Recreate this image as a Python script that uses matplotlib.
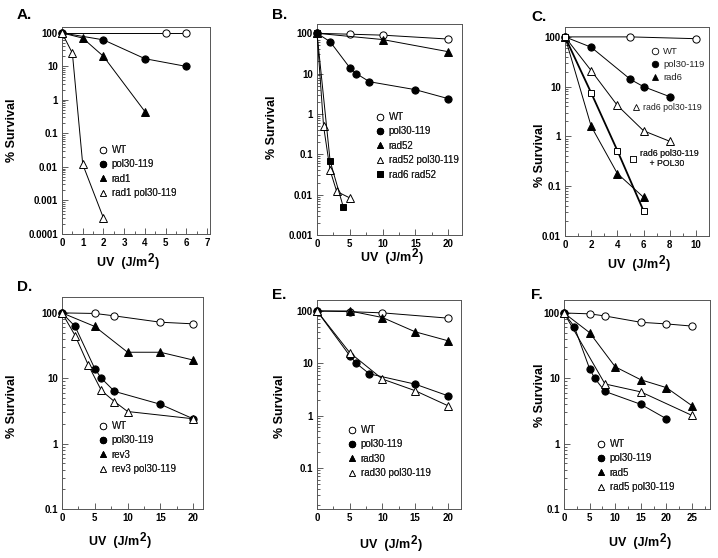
import matplotlib
matplotlib.use("Agg")
import matplotlib.pyplot as plt
from matplotlib.lines import Line2D
from matplotlib.ticker import MultipleLocator, LogLocator, FuncFormatter, FixedLocator, NullFormatter

plt.rcParams['font.family'] = ['Liberation Sans', 'DejaVu Sans']

# ---------------- data ----------------
# Panel A
a_wt_x = [0, 5, 6];             a_wt_y = [100, 100, 100]
a_pol_x = [0, 2, 4, 6];         a_pol_y = [100, 62, 17, 10]
a_rad1_x = [0, 1, 2, 4];        a_rad1_y = [100, 70, 20, 0.45]
a_rp_x = [0, 0.5, 1, 2];        a_rp_y = [100, 25, 0.012, 0.0003]
# Panel B
b_wt_x = [0, 5, 10, 20];        b_wt_y = [100, 95, 90, 72]
b_pol_x = [0, 2, 5, 6, 8, 15, 20]; b_pol_y = [100, 62, 14, 10, 6.3, 4, 2.4]
b_rad52_x = [0, 10, 20];        b_rad52_y = [100, 70, 35]
b_rp_x = [0, 1, 2, 3, 5];       b_rp_y = [100, 0.5, 0.04, 0.012, 0.0083]
b_r6r52_x = [0, 2, 4];          b_r6r52_y = [100, 0.068, 0.005]
# Panel C
c_wt_x = [0, 5, 10];            c_wt_y = [100, 100, 92]
c_pol_x = [0, 2, 5, 6, 8];      c_pol_y = [100, 62, 14, 10, 6.3]
c_rad6_x = [0, 2, 4, 6];        c_rad6_y = [100, 1.6, 0.18, 0.06]
c_rp_x = [0, 2, 4, 6, 8];       c_rp_y = [100, 21, 4.2, 1.3, 0.8]
c_rpP_x = [0, 2, 4, 6];         c_rpP_y = [100, 7.5, 0.52, 0.032]
# Panel D
d_wt_x = [0, 5, 8, 15, 20];     d_wt_y = [100, 98, 90, 72, 68]
d_pol_x = [0, 2, 5, 6, 8, 15, 20]; d_pol_y = [100, 62, 14, 10, 6.3, 4, 2.4]
d_rev3_x = [0, 5, 10, 15, 20];  d_rev3_y = [100, 62, 25, 25, 19]
d_rp_x = [0, 2, 4, 6, 8, 10, 20]; d_rp_y = [100, 45, 16, 6.5, 4.4, 3.1, 2.4]
# Panel E
e_wt_x = [0, 5, 10, 20];        e_wt_y = [100, 97, 92, 73]
e_pol_x = [0, 5, 6, 8, 15, 20]; e_pol_y = [100, 14, 10, 6.3, 4, 2.4]
e_rad30_x = [0, 5, 10, 15, 20]; e_rad30_y = [100, 100, 75, 40, 27]
e_rp_x = [0, 5, 10, 15, 20];    e_rp_y = [100, 16, 5, 3, 1.55]
# Panel F
f_wt_x = [0, 5, 8, 15, 20, 25]; f_wt_y = [100, 97, 90, 72, 68, 63]
f_pol_x = [0, 2, 5, 6, 8, 15, 20]; f_pol_y = [100, 62, 14, 10, 6.3, 4, 2.4]
f_rad5_x = [0, 5, 10, 15, 20, 25]; f_rad5_y = [100, 50, 15, 9.5, 7.2, 3.8]
f_rp_x = [0, 8, 15, 25];        f_rp_y = [100, 8.2, 6.2, 2.7]

W, H = 718, 558
fig = plt.figure(figsize=(W / 100, H / 100), dpi=100)
renderer = fig.canvas.get_renderer()

STY = {
    'oc': dict(marker='o', mfc='white', mec='black', ms=5.2),
    'fc': dict(marker='o', mfc='black', mec='black', ms=5.2),
    'ft': dict(marker='^', mfc='black', mec='black', ms=5.2),
    'ot': dict(marker='^', mfc='white', mec='black', ms=5.2),
    'fs': dict(marker='s', mfc='black', mec='black', ms=4.3),
    'os': dict(marker='s', mfc='white', mec='black', ms=4.5),
}

def mk_axes(l, t, r, b):
    return fig.add_axes([l / W, 1 - b / H, (r - l) / W, (b - t) / H])

def fmt(v, pos):
    return '%g' % v

def style(ax, xmax, xmajor, xminor, ylo, yhi, ylabels):
    ax.set_yscale('log')
    ax.set_xlim(0, xmax)
    ax.set_ylim(ylo, yhi)
    ax.xaxis.set_major_locator(MultipleLocator(xmajor))
    ax.xaxis.set_minor_locator(MultipleLocator(xminor))
    ax.yaxis.set_major_locator(FixedLocator(ylabels))
    ax.yaxis.set_major_formatter(FuncFormatter(fmt))
    ax.yaxis.set_minor_locator(LogLocator(base=10, subs=range(2, 10), numticks=20))
    ax.yaxis.set_minor_formatter(NullFormatter())
    ax.tick_params(which='both', direction='in', top=False, right=False,
                   labelsize=7, width=0.6, color='#444')
    ax.tick_params(which='major', length=4, pad=3)
    ax.tick_params(which='minor', length=2)
    for lab in ax.get_xticklabels() + ax.get_yticklabels():
        lab.set_fontweight('bold')
    for s in ax.spines.values():
        s.set_linewidth(0.7)
        s.set_color('#555')

def series(ax, x, y, key, lw=0.7):
    ax.plot(x, y, color='black', lw=lw, mew=0.7, zorder=3, clip_on=False, **STY[key])

def legend(ax, entries, px, py, spacing=0.45, size=7):
    handles = [Line2D([], [], ls='none', mew=0.6,
                      **{**STY[k], 'ms': STY[k]['ms'] * 0.9}) for k, _ in entries]
    labels = [lab for _, lab in entries]
    lg = ax.legend(handles, labels, loc='upper left',
                   bbox_to_anchor=(px / W, 1 - py / H), bbox_transform=fig.transFigure,
                   frameon=False, borderpad=0, borderaxespad=0, handlelength=0.9,
                   handletextpad=0.4, labelspacing=spacing,
                   prop={'size': size, 'weight': 'normal', 'family': 'Liberation Sans'})
    for t in lg.get_texts():
        t.set_color('#222')
    ax.add_artist(lg)
    return lg

def xlabel_fig(cx, cy):
    fs = 9
    y = 1 - cy / H
    parts = [('UV  (J/m', fs, 0, 1.0), ('2', 8.5, 4, 1.0), (')', fs, 0, 0)]
    texts = []
    for s, size, dy, gap in parts:
        t = fig.text(0, y + dy / H, s, fontsize=size, fontweight='bold', va='center', ha='left')
        texts.append((t, gap))
    widths = [t.get_window_extent(renderer).width + g for t, g in texts]
    x = cx - sum(widths) / 2
    for (t, g), w in zip(texts, widths):
        t.set_x(x / W)
        x += w

def labels(letter, lx, ly, ylx, yly, xlx, xly):
    fig.text(lx / W, 1 - ly / H, letter, fontsize=11, fontweight='bold', va='center', ha='left')
    fig.text(ylx / W, 1 - yly / H, '% Survival', fontsize=9, fontweight='bold',
             rotation=90, va='center', ha='center')
    xlabel_fig(xlx, xly)

# ---- A ----
ax = mk_axes(62, 27, 210, 234)
style(ax, 7.14, 1, 0.5, 1e-4, 150, [1e-4, 1e-3, 1e-2, 0.1, 1, 10, 100])
series(ax, a_wt_x, a_wt_y, 'oc')
series(ax, a_pol_x, a_pol_y, 'fc')
series(ax, a_rad1_x, a_rad1_y, 'ft')
series(ax, a_rp_x, a_rp_y, 'ot')
legend(ax, [('oc', 'WT'), ('fc', 'pol30-119'), ('ft', 'rad1'), ('ot', 'rad1 pol30-119')], 99, 145)
labels('A.', 17, 15, 12, 130, 128, 263)

# ---- B ----
ax = mk_axes(317, 24, 462, 235)
style(ax, 22.1, 5, 2.5, 1e-3, 170, [1e-3, 1e-2, 0.1, 1, 10, 100])
series(ax, b_wt_x, b_wt_y, 'oc')
series(ax, b_pol_x, b_pol_y, 'fc')
series(ax, b_rad52_x, b_rad52_y, 'ft')
series(ax, b_rp_x, b_rp_y, 'ot')
series(ax, b_r6r52_x, b_r6r52_y, 'fs')
legend(ax, [('oc', 'WT'), ('fc', 'pol30-119'), ('ft', 'rad52'), ('ot', 'rad52 pol30-119'),
            ('fs', 'rad6 rad52')], 376, 112)
labels('B.', 272, 15, 272, 127, 392, 258)

# ---- C ----
ax = mk_axes(565, 27, 709, 236)
style(ax, 11, 2, 1, 1e-2, 158, [1e-2, 0.1, 1, 10, 100])
series(ax, c_wt_x, c_wt_y, 'oc')
series(ax, c_pol_x, c_pol_y, 'fc')
series(ax, c_rad6_x, c_rad6_y, 'ft')
series(ax, c_rp_x, c_rp_y, 'ot')
series(ax, c_rpP_x, c_rpP_y, 'os', lw=1.3)
legend(ax, [('oc', 'WT'), ('fc', 'pol30-119'), ('ft', 'rad6')], 651, 47, size=6.8)
legend(ax, [('ot', 'rad6 pol30-119')], 632, 103, size=6.3)
legend(ax, [('os', 'rad6 pol30-119\n    + POL30')], 629, 149, size=6.3)
labels('C.', 531, 17, 540, 155, 639, 265)

# ---- D ----
ax = mk_axes(62, 297, 203, 509)
style(ax, 21.5, 5, 2.5, 0.1, 175, [0.1, 1, 10, 100])
series(ax, d_wt_x, d_wt_y, 'oc')
series(ax, d_pol_x, d_pol_y, 'fc')
series(ax, d_rev3_x, d_rev3_y, 'ft')
series(ax, d_rp_x, d_rp_y, 'ot')
legend(ax, [('oc', 'WT'), ('fc', 'pol30-119'), ('ft', 'rev3'), ('ot', 'rev3 pol30-119')], 99, 421)
labels('D.', 17, 287, 12, 406, 120, 542)

# ---- E ----
ax = mk_axes(317, 300, 461, 509)
style(ax, 22, 5, 2.5, 0.0165, 162, [0.1, 1, 10, 100])
series(ax, e_wt_x, e_wt_y, 'oc')
series(ax, e_pol_x, e_pol_y, 'fc')
series(ax, e_rad30_x, e_rad30_y, 'ft')
series(ax, e_rp_x, e_rp_y, 'ot')
legend(ax, [('oc', 'WT'), ('fc', 'pol30-119'), ('ft', 'rad30'), ('ot', 'rad30 pol30-119')], 348, 425)
labels('E.', 272, 295, 280, 406, 391, 545)

# ---- F ----
ax = mk_axes(564, 300, 710, 509)
style(ax, 28.5, 5, 2.5, 0.1, 158, [0.1, 1, 10, 100])
series(ax, f_wt_x, f_wt_y, 'oc')
series(ax, f_pol_x, f_pol_y, 'fc')
series(ax, f_rad5_x, f_rad5_y, 'ft')
series(ax, f_rp_x, f_rp_y, 'ot')
legend(ax, [('oc', 'WT'), ('fc', 'pol30-119'), ('ft', 'rad5'), ('ot', 'rad5 pol30-119')], 597, 439)
labels('F.', 531, 295, 540, 395, 640, 543)

fig.savefig('out.png', dpi=100, facecolor='white')
